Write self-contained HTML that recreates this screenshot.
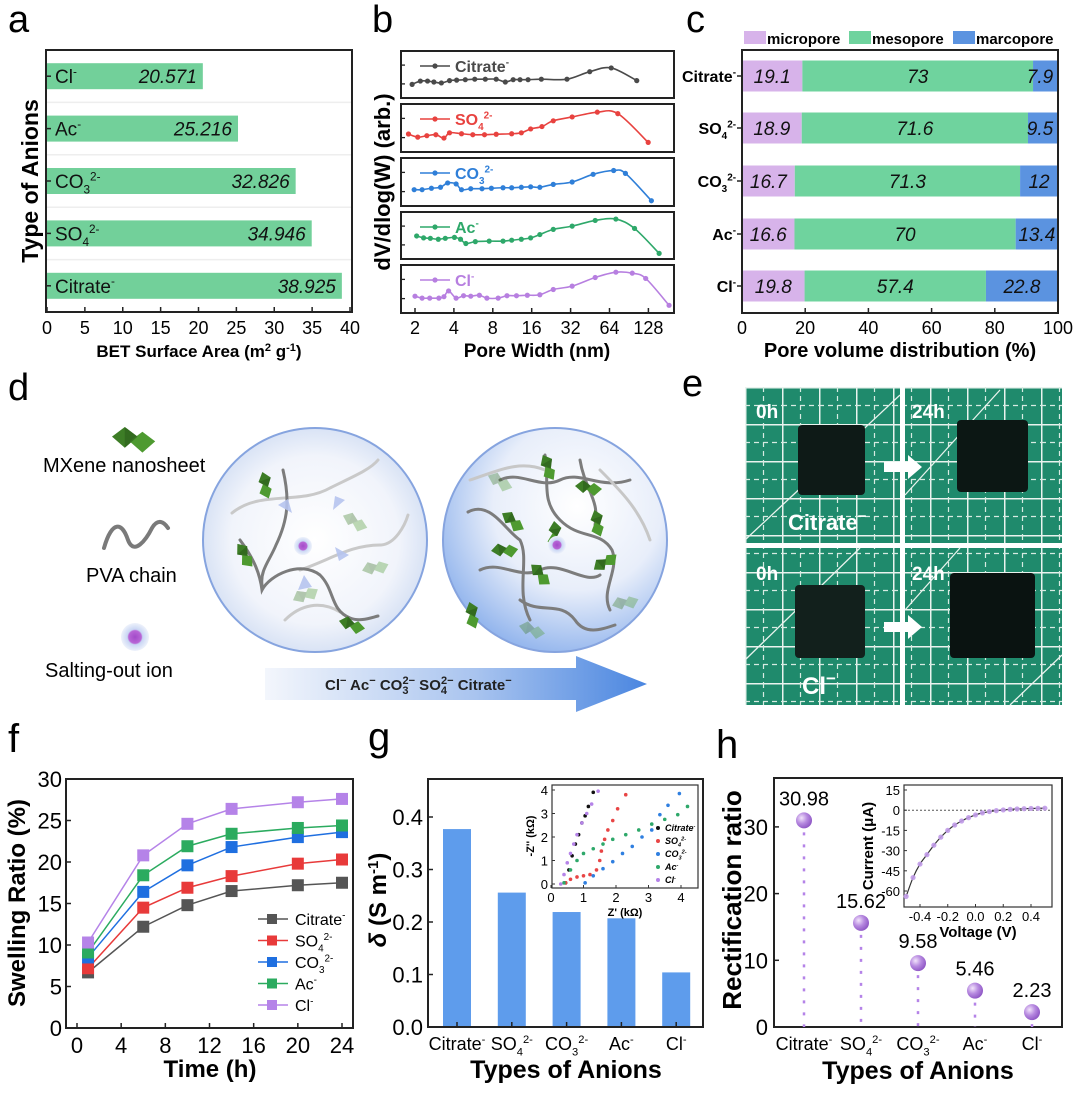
<!DOCTYPE html>
<html><head><meta charset="utf-8"><style>
html,body{margin:0;padding:0;background:#fff}
svg{display:block;font-family:"Liberation Sans",Arial,sans-serif}
</style></head><body>
<svg id="fig" width="1080" height="1095" viewBox="0 0 1080 1095" xmlns="http://www.w3.org/2000/svg">
<defs>
<radialGradient id="circL" cx="0.5" cy="0.5" r="0.5"><stop offset="0" stop-color="#ffffff"/><stop offset="0.75" stop-color="#f1f4fb"/><stop offset="1" stop-color="#d9e3f5"/></radialGradient>
<radialGradient id="circR" cx="0.6" cy="0.35" r="0.75"><stop offset="0" stop-color="#ffffff"/><stop offset="0.5" stop-color="#e8eefa"/><stop offset="1" stop-color="#7fa8ea"/></radialGradient>
<linearGradient id="arrowG" x1="0" x2="1" y1="0" y2="0"><stop offset="0" stop-color="#f3f6fc"/><stop offset="0.55" stop-color="#a9c4ef"/><stop offset="1" stop-color="#4a86e0"/></linearGradient>
<radialGradient id="ionG"><stop offset="0" stop-color="#a24bc9"/><stop offset="0.45" stop-color="#b866d6"/><stop offset="0.55" stop-color="#c9d6f4"/><stop offset="1" stop-color="#eef2fb"/></radialGradient>
<radialGradient id="ballG" cx="0.35" cy="0.35" r="0.7"><stop offset="0" stop-color="#f2e4fb"/><stop offset="0.5" stop-color="#b78ae0"/><stop offset="1" stop-color="#8d55c4"/></radialGradient>
<pattern id="grid" width="37" height="37" patternUnits="userSpaceOnUse" x="745" y="387">
<rect width="37" height="37" fill="#1f8a6c"/>
<path d="M0,0.5H37M0.5,0V37" stroke="#e9f3ee" stroke-width="2"/>
<path d="M0,18.5H37M18.5,0V37" stroke="#d7ebe2" stroke-width="1.2" stroke-dasharray="5,4"/>
</pattern>
<g id="mx"><path d="M0,6 L8,0 L16,6 L8,13 Z" fill="#3d7d26"/><path d="M11,9 L19,3 L27,9 L19,16 Z" fill="#4e9a30"/><path d="M8,0 L16,6 L8,13 Z" fill="#2b5e1a" opacity="0.6"/></g>
</defs>
<rect width="1080" height="1095" fill="#fff"/>

<text x="8" y="32" font-size="38">a</text>
<text x="372" y="32" font-size="38">b</text>
<text x="686" y="32" font-size="38">c</text>
<text x="8" y="400" font-size="38">d</text>
<text x="682" y="396" font-size="38">e</text>
<text x="8" y="752" font-size="40">f</text>
<text x="368" y="750" font-size="40">g</text>
<text x="716" y="758" font-size="40">h</text>

<g id="pa"></g>
<g id="pb"></g>
<g id="pc"></g>

<g id="pd">
<use href="#mx" x="112" y="427" transform="translate(112,427) scale(1.6) translate(-112,-427)"/>
<text x="43" y="472" font-size="20">MXene nanosheet</text>
<path d="M104,548 C112,520 122,522 128,540 C134,556 146,540 152,528 C158,518 164,522 168,528" fill="none" stroke="#7a7a7a" stroke-width="4" stroke-linecap="round"/>
<text x="86" y="582" font-size="20">PVA chain</text>
<circle cx="135" cy="637" r="14" fill="url(#ionG)"/>
<text x="45" y="677" font-size="20">Salting-out ion</text>
<circle cx="315" cy="540" r="112" fill="url(#circL)" stroke="#86a4df" stroke-width="2"/>
<g fill="none" stroke="#c9c9c9" stroke-width="3" stroke-linecap="round">
<path d="M232,513 C260,490 300,505 330,488 C350,478 370,470 378,460"/>
<path d="M300,570 C330,560 350,545 380,545 C395,545 405,525 408,515"/>
<path d="M285,620 C300,605 320,600 340,612"/>
</g>
<g fill="none" stroke="#7c7c7c" stroke-width="3" stroke-linecap="round">
<path d="M283,470 C290,500 288,520 276,545 C270,560 260,570 262,585"/>
<path d="M240,540 C255,560 260,575 262,590 C270,575 300,560 320,575 C335,590 330,610 350,618 C360,622 370,618 378,616"/>
</g>
<g fill="#b6c4ef" opacity="0.9">
<path d="M278,505 l14,8 l-4,-14 z"/><path d="M345,500 l-12,10 l2,-14 z"/><path d="M349,555 l-14,-8 l4,14 z"/><path d="M298,590 l6,-15 l8,12 z"/>
</g>
<use href="#mx" transform="translate(268,470) rotate(70)"/>
<use href="#mx" transform="translate(242,540) rotate(50)"/>
<use href="#mx" transform="translate(340,615) rotate(10)"/>
<use href="#mx" transform="translate(345,510) rotate(20)" opacity="0.35"/>
<use href="#mx" transform="translate(360,565) rotate(-20)" opacity="0.35"/>
<use href="#mx" transform="translate(290,595) rotate(-30)" opacity="0.35"/>
<circle cx="303" cy="546" r="9" fill="url(#ionG)"/>
<circle cx="555" cy="540" r="112" fill="url(#circR)" stroke="#86a4df" stroke-width="2"/>
<g fill="none" stroke="#7c7c7c" stroke-width="3" stroke-linecap="round">
<path d="M468,512 C490,500 505,530 520,540 C530,560 515,590 530,620"/>
<path d="M545,455 C550,480 540,500 560,520 C580,540 600,530 612,550 C620,570 600,590 610,610"/>
<path d="M480,570 C500,560 520,580 540,570 C560,560 585,585 600,575"/>
<path d="M500,480 C520,470 540,490 560,480 C580,470 600,490 630,480"/>
<path d="M520,600 C540,615 560,600 575,620 C585,635 600,630 615,625"/>
<path d="M580,460 C585,490 600,500 595,525"/>
</g>
<g fill="none" stroke="#c7c7c7" stroke-width="3" stroke-linecap="round">
<path d="M470,480 C500,470 520,460 545,470"/><path d="M600,470 C620,490 640,510 650,540"/>
</g>
<use href="#mx" transform="translate(548,452) rotate(60)"/>
<use href="#mx" transform="translate(505,508) rotate(30)"/>
<use href="#mx" transform="translate(490,545) rotate(-10)"/>
<use href="#mx" transform="translate(560,520) rotate(80)"/>
<use href="#mx" transform="translate(600,508) rotate(70)"/>
<use href="#mx" transform="translate(535,560) rotate(40)"/>
<use href="#mx" transform="translate(590,565) rotate(-40)"/>
<use href="#mx" transform="translate(575,480) rotate(0)"/>
<use href="#mx" transform="translate(475,600) rotate(70)"/>
<use href="#mx" transform="translate(490,470) rotate(20)" opacity="0.35"/>
<use href="#mx" transform="translate(610,600) rotate(-20)" opacity="0.35"/>
<use href="#mx" transform="translate(520,620) rotate(10)" opacity="0.35"/>
<circle cx="557" cy="545" r="9" fill="url(#ionG)"/>
<path d="M265,668 H576 V656 L647,684 L576,712 V700 H265 Z" fill="url(#arrowG)"/>
<text x="325" y="690" font-size="15" font-weight="bold" fill="#222">Cl<tspan dy="-6" font-size="11">−</tspan><tspan dy="6"> Ac</tspan><tspan dy="-6" font-size="11">−</tspan><tspan dy="6"> CO</tspan><tspan dy="4" font-size="11">3</tspan><tspan dy="-10" dx="-6" font-size="11">2−</tspan><tspan dy="6"> SO</tspan><tspan dy="4" font-size="11">4</tspan><tspan dy="-10" dx="-6" font-size="11">2−</tspan><tspan dy="6"> Citrate</tspan><tspan dy="-6" font-size="11">−</tspan></text>
</g>

<g id="pe">
<rect x="745" y="387" width="155" height="156" fill="url(#grid)"/>
<rect x="905" y="387" width="157" height="156" fill="url(#grid)"/>
<rect x="745" y="548" width="155" height="157" fill="url(#grid)"/>
<rect x="905" y="548" width="157" height="157" fill="url(#grid)"/>
<g stroke="#e9f3ee" stroke-width="1.3">
<line x1="745" y1="540" x2="900" y2="395"/><line x1="905" y1="495" x2="1000" y2="390"/><line x1="745" y1="660" x2="860" y2="548"/><line x1="905" y1="610" x2="960" y2="548"/><line x1="1010" y1="705" x2="1062" y2="655"/>
</g>
<rect x="798" y="425" width="67" height="70" rx="4" fill="#0e1a17"/>
<rect x="957" y="420" width="71" height="72" rx="4" fill="#0c1714"/>
<rect x="795" y="585" width="70" height="73" rx="4" fill="#12201c"/>
<rect x="950" y="573" width="85" height="85" rx="4" fill="#0a1311"/>
<path d="M884,462 H908 V455 L922,467 L908,479 V472 H884 Z" fill="#fff"/>
<path d="M884,622 H908 V615 L922,627 L908,639 V632 H884 Z" fill="#fff"/>
<g fill="#fff" font-weight="bold" font-size="19">
<text x="756" y="418">0h</text><text x="912" y="418">24h</text><text x="756" y="580">0h</text><text x="912" y="580">24h</text>
<text x="788" y="530" font-size="22">Citrate<tspan dy="-9" font-size="15">−</tspan></text>
<text x="802" y="694" font-size="24">Cl<tspan dy="-10" font-size="17">−</tspan></text>
</g>
</g>

<g id="pf"></g>
<g id="pg"></g>
<g id="ph"></g>
</svg>

<script>
const aCats = ['Cl','Ac','CO3','SO4','Cit'];
const aVals = [20.571, 25.216, 32.826, 34.946, 38.925];
const aTicks = [0,5,10,15,20,25,30,35,40];

const bSeries = ['Cit','SO4','CO3','Ac','Cl'];
const bWidthCit = [1.9,2.2,2.5,2.8,3.2,3.7,4.2,4.9,5.8,7,8.5,10,11.5,13,15,19,30,45,66,104];
const bValCit   = [0.29,0.36,0.36,0.34,0.32,0.37,0.38,0.39,0.40,0.40,0.40,0.34,0.39,0.39,0.39,0.40,0.40,0.56,0.64,0.37];
const bWidthSO4 = [1.78,2.1,2.47,2.9,3.35,3.7,4.58,5.6,6.9,8.5,11.2,13.3,15.7,19.2,23.5,32.9,51.5,74.2,127.5];
const bValSO4   = [0.375,0.31,0.34,0.36,0.29,0.40,0.38,0.36,0.36,0.37,0.38,0.40,0.48,0.53,0.65,0.73,0.83,0.80,0.2];
const bWidthCO3 = [1.97,2.27,2.68,3.15,3.58,4.16,4.58,5.4,6.6,7.8,9.6,11.2,13.3,15.7,18.5,23.5,32.9,47.8,68.9,85,135];
const bValCO3   = [0.34,0.34,0.37,0.39,0.48,0.46,0.34,0.36,0.36,0.37,0.38,0.38,0.39,0.40,0.39,0.45,0.50,0.66,0.74,0.68,0.11];
const bWidthAc  = [2.06,2.33,2.63,3.03,3.43,4.04,4.5,4.95,5.86,7.5,9.6,11.2,13.3,15.7,18.5,23.5,32.9,49.6,71.7,100,155];
const bValAc    = [0.49,0.45,0.44,0.42,0.44,0.46,0.42,0.33,0.37,0.38,0.38,0.40,0.42,0.45,0.52,0.63,0.70,0.82,0.85,0.65,0.12];
const bWidthCl  = [2.0,2.27,2.6,3.06,3.35,3.64,4.16,4.75,5.4,6.3,7.2,8.8,10.3,12.2,14.8,18.5,23.5,32.9,49.6,71.7,96,122,185];
const bValCl    = [0.35,0.31,0.31,0.31,0.34,0.46,0.31,0.36,0.35,0.37,0.31,0.31,0.36,0.36,0.37,0.38,0.49,0.56,0.74,0.85,0.83,0.72,0.16];
const bTicks = [2,4,8,16,32,64,128];

const cCats = ['Cit','SO4','CO3','Ac','Cl'];
const cMicro = [19.1, 18.9, 16.7, 16.6, 19.8];
const cMeso  = [73, 71.6, 71.3, 70, 57.4];
const cMacro = [7.9, 9.5, 12, 13.4, 22.8];
const cTicks = [0,20,40,60,80,100];

const fTimes = [1,6,10,14,20,24];
const fCit = [6.7,12.2,14.8,16.5,17.2,17.5];
const fSO4 = [7.2,14.5,16.9,18.3,19.8,20.3];
const fCO3 = [8.5,16.4,19.6,21.8,23.0,23.6];
const fAc  = [9.1,18.4,21.9,23.4,24.1,24.4];
const fCl  = [10.3,20.8,24.6,26.4,27.2,27.6];
const fXTicks = [0,4,8,12,16,20,24];
const fYTicks = [0,5,10,15,20,25,30];

const gCats = ['Cit','SO4','CO3','Ac','Cl'];
const gVals = [0.377, 0.256, 0.219, 0.207, 0.104];
const gYTicks = ['0.0','0.1','0.2','0.3','0.4'];
const giCitX = [0.45,0.55,0.65,0.75,0.85,0.95,1.05,1.15,1.3];
const giCitY = [0.05,0.6,1.2,1.7,2.1,2.6,2.9,3.3,3.9];
const giSO4X = [0.45,0.6,0.8,1.0,1.2,1.4,1.5,1.55,1.65,1.75,1.9,2.05,2.3];
const giSO4Y = [0.05,0.2,0.3,0.35,0.4,0.6,1.0,1.4,1.9,2.3,2.7,3.2,3.8];
const giCO3X = [1.05,1.3,1.6,1.9,2.2,2.5,2.8,3.1,3.35,3.6,3.95];
const giCO3Y = [0.05,0.35,0.65,0.95,1.3,1.6,2.0,2.3,2.95,3.35,3.85];
const giAcX  = [0.4,0.6,0.8,1.0,1.3,1.6,1.9,2.3,2.7,3.1,3.5,3.9,4.2];
const giAcY  = [0.05,0.6,1.0,1.3,1.5,1.7,1.9,2.1,2.3,2.55,2.75,2.95,3.3];
const giClX  = [0.3,0.4,0.5,0.6,0.7,0.8,0.95,1.1,1.25,1.45];
const giClY  = [0,0.4,0.9,1.3,1.7,2.1,2.6,3.0,3.4,3.95];
const giXTicks = [0,1,2,3,4];
const giYTicks = [0,1,2,3,4];

const hCats = ['Cit','SO4','CO3','Ac','Cl'];
const hVals = [30.98, 15.62, 9.58, 5.46, 2.23];
const hLabels = ['30.98','15.62','9.58','5.46','2.23'];
const hYTicks = [0,10,20,30];
const hiV = [-0.5,-0.45,-0.4,-0.35,-0.3,-0.25,-0.2,-0.15,-0.1,-0.05,0,0.05,0.1,0.15,0.2,0.25,0.3,0.35,0.4,0.45,0.5];
const hiI = [-64,-50,-40,-33,-26,-20,-15,-11,-8,-5.5,-3.5,-2,-1,-0.3,0.2,0.6,0.9,1.1,1.3,1.4,1.5];
const hiXTicks = ['-0.4','-0.2','0.0','0.2','0.4'];
const hiYTicks = [15,0,-15,-30,-45,-60];

const NS='http://www.w3.org/2000/svg';
const IONS={Cl:['Cl','','-'],Ac:['Ac','','-'],CO3:['CO','3','2-'],SO4:['SO','4','2-'],Cit:['Citrate','','-']};
function mk(tag,attrs,parent){const e=document.createElementNS(NS,tag);for(const k in attrs)e.setAttribute(k,attrs[k]);parent.appendChild(e);return e;}
function txt(p,x,y,s,attrs){const t=mk('text',Object.assign({x:x,y:y},attrs||{}),p);t.textContent=s;return t;}
function ion(p,x,y,key,fs,anchor,extra){
  const d=IONS[key];const t=mk('text',Object.assign({x:x,y:y,'font-size':fs,'text-anchor':anchor||'start'},extra||{}),p);
  t.appendChild(document.createTextNode(d[0]));let dy=0;
  if(d[1]){const s=mk('tspan',{dy:fs*0.3,'font-size':fs*0.62},t);s.textContent=d[1];dy=fs*0.3;}
  if(d[2]){const s=mk('tspan',{dy:-dy-fs*0.4,'font-size':fs*0.62},t);s.textContent=d[2];}
  return t;}
function smooth(pts){let d='M'+pts[0][0]+','+pts[0][1];
  for(let i=0;i<pts.length-1;i++){const p0=pts[i-1]||pts[i],p1=pts[i],p2=pts[i+1],p3=pts[i+2]||p2;
  d+=' C'+(p1[0]+(p2[0]-p0[0])/6)+','+(p1[1]+(p2[1]-p0[1])/6)+' '+(p2[0]-(p3[0]-p1[0])/6)+','+(p2[1]-(p3[1]-p1[1])/6)+' '+p2[0]+','+p2[1];}
  return d;}
function frame(p,x0,y0,x1,y1,name){const r=mk('rect',{x:x0,y:y0,width:x1-x0,height:y1-y0,fill:'none',stroke:'#222','stroke-width':2},p);
  
  return r;}

(function(){
const p=document.getElementById('pa');
const X0=46,X1=352,Y0=50,Y1=312;
const xa=v=>47+v*(350-47)/40;
const band=(Y1-Y0)/aCats.length;
aCats.forEach((c,i)=>{
  const cy=Y0+band*(i+0.5);
  if(i>0){const l=mk('line',{x1:X0,x2:X1,y1:Y0+band*i,y2:Y0+band*i,stroke:'#eeeeee','stroke-width':1.5},p);
    
    }
  const b=mk('rect',{x:xa(0),y:cy-13,width:xa(aVals[i])-xa(0),height:26,fill:'#72d09a'},p);
  
  
  const v=txt(p,xa(aVals[i])-6,cy+7,aVals[i].toFixed(3),{'font-size':19,'font-style':'italic','text-anchor':'end',fill:'#111'});
  
  
  const t=ion(p,X0+9,cy+7,c,19,'start',{fill:'#111'});
  
  
  mk('line',{x1:X0,x2:X0+5,y1:cy,y2:cy,stroke:'#222','stroke-width':1.5},p);
});
frame(p,X0,Y0,X1,Y1,'plot-frame-a');
aTicks.forEach(t=>{
  mk('line',{x1:xa(t),x2:xa(t),y1:Y1,y2:Y1-5,stroke:'#222','stroke-width':1.5},p);
  const l=txt(p,xa(t),334,String(t),{'font-size':18,'text-anchor':'middle'});
  
  
});
const xt=mk('text',{x:199,y:357,'font-size':17,'font-weight':'bold','text-anchor':'middle'},p);
xt.innerHTML='BET Surface Area (m<tspan dy="-6" font-size="11">2</tspan><tspan dy="6"> g</tspan><tspan dy="-6" font-size="11">-1</tspan><tspan dy="6">)</tspan>';


const yt=txt(p,0,0,'Type of Anions',{'font-size':23,'font-weight':'bold','text-anchor':'middle',transform:'translate(38,181) rotate(-90)'});


})();

(function(){
const p=document.getElementById('pb');
const X0=401,X1=674;
const boxes=[[51,98],[104,152],[158,206],[212,259],[265,313]];
const xb=w=>415+Math.log2(w/2)*38.9;
const widths=[bWidthCit,bWidthSO4,bWidthCO3,bWidthAc,bWidthCl];
const vals=[bValCit,bValSO4,bValCO3,bValAc,bValCl];
const cols=['#4a4a4a','#e8423f','#2f7fd8','#2ea86a','#b77fe0'];
bSeries.forEach((s,i)=>{
  const [t,b]=boxes[i];const h=b-t;const yb=v=>b-v*h;
  frame(p,X0,t,X1,b,'box-'+s);
  [0.3,0.7].forEach(v=>mk('line',{x1:X0,x2:X0+4,y1:yb(v),y2:yb(v),stroke:'#222','stroke-width':1.3},p));
  const pts=widths[i].map((w,k)=>[xb(w),yb(vals[i][k])]);
  const line=mk('path',{d:smooth(pts),fill:'none',stroke:cols[i],'stroke-width':1.6},p);
  
  
  pts.forEach(q=>{const c=mk('circle',{cx:q[0],cy:q[1],r:2.6,fill:cols[i]},p);
    
    });
  mk('line',{x1:420,x2:450,y1:t+15,y2:t+15,stroke:cols[i],'stroke-width':1.6},p);
  mk('circle',{cx:435,cy:t+15,r:2.6,fill:cols[i]},p);
  const lt=ion(p,455,t+21,s,16,'start',{fill:cols[i],'font-weight':'bold'});
  
  
});
bTicks.forEach(w=>{
  mk('line',{x1:xb(w),x2:xb(w),y1:313,y2:308,stroke:'#222','stroke-width':1.5},p);
  const l=txt(p,xb(w),334,String(w),{'font-size':18,'text-anchor':'middle'});
  
  
});
const xt=txt(p,537,357,'Pore Width (nm)',{'font-size':19,'font-weight':'bold','text-anchor':'middle'});


const yt=txt(p,0,0,'dV/dlog(W) (arb.)',{'font-size':22,'font-weight':'bold','text-anchor':'middle',transform:'translate(390,182) rotate(-90)'});


})();

(function(){
const p=document.getElementById('pc');
const X0=742,X1=1058,Y0=50,Y1=313;
const xc=v=>X0+v*(X1-X0)/100;
const rows=[76,128,181,234,286];
const cols=['#d7b3ea','#6fd39e','#5b93e0'];
const segs=[cMicro,cMeso,cMacro];const nm=['micropore','mesopore','macropore'];
cCats.forEach((c,i)=>{
  let acc=0;
  segs.forEach((arr,k)=>{
    const v=arr[i];
    const r=mk('rect',{x:xc(acc),y:rows[i]-15.5,width:xc(acc+v)-xc(acc),height:31,fill:cols[k]},p);
    
    
    const lx=k===2?Math.min(xc(acc+v/2),X1-18):xc(acc+v/2);
    const l=txt(p,lx,rows[i]+7,String(v),{'font-size':19,'font-style':'italic','text-anchor':'middle',fill:'#111'});
    
    
    acc+=v;
  });
  const t=ion(p,736,rows[i]+6,c,16,'end',{'font-weight':'bold'});
  
  
  mk('line',{x1:X0-5,x2:X0,y1:rows[i],y2:rows[i],stroke:'#222','stroke-width':1.5},p);
});
frame(p,X0,Y0,X1,Y1,'plot-frame-c');
cTicks.forEach(t=>{
  mk('line',{x1:xc(t),x2:xc(t),y1:Y1,y2:Y1-5,stroke:'#222','stroke-width':1.5},p);
  const l=txt(p,xc(t),334,String(t),{'font-size':18,'text-anchor':'middle'});
  
  
});
const lg=[[744,'micropore'],[849,'mesopore'],[953,'marcopore']];
lg.forEach((L,k)=>{
  const s=mk('rect',{x:L[0],y:31,width:22,height:13,fill:cols[k]},p);
  
  
  const t=txt(p,L[0]+23,44,L[1],{'font-size':15,'font-weight':'bold'});
  
  
});
const xt=txt(p,900,357,'Pore volume distribution (%)',{'font-size':20,'font-weight':'bold','text-anchor':'middle'});


})();

(function(){
const p=document.getElementById('pf');
const X0=66,X1=353,Y0=779,Y1=1028;
const xf=t=>77+t*(342-77)/24;
const yf=v=>Y1-v*(Y1-Y0)/30;
frame(p,X0,Y0,X1,Y1,'plot-frame-f');
fXTicks.forEach(t=>{mk('line',{x1:xf(t),x2:xf(t),y1:Y1,y2:Y1-5,stroke:'#222','stroke-width':1.5},p);
  const l=txt(p,xf(t),1053,String(t),{'font-size':22,'text-anchor':'middle'});
  
  });
fYTicks.forEach(v=>{mk('line',{x1:X0,x2:X0+5,y1:yf(v),y2:yf(v),stroke:'#222','stroke-width':1.5},p);
  const l=txt(p,62,yf(v)+8,String(v),{'font-size':22,'text-anchor':'end'});
  
  });
const series=[['Cit',fCit,'#555555'],['SO4',fSO4,'#e83a3a'],['CO3',fCO3,'#1f6fe0'],['Ac',fAc,'#2bab5f'],['Cl',fCl,'#b583e8']];
series.forEach((s,i)=>{
  const pts=fTimes.map((t,k)=>xf(t)+','+yf(s[1][k])).join(' ');
  const l=mk('polyline',{points:pts,fill:'none',stroke:s[2],'stroke-width':1.5},p);
  
  
  fTimes.forEach((t,k)=>{const m=mk('rect',{x:xf(t)-6,y:yf(s[1][k])-6,width:12,height:12,fill:s[2]},p);
    
    });
  const ly=919+i*21.5;
  mk('line',{x1:258,x2:288,y1:ly,y2:ly,stroke:s[2],'stroke-width':1.5},p);
  mk('rect',{x:267,y:ly-5,width:10,height:10,fill:s[2]},p);
  const t=ion(p,295,ly+6,s[0],16,'start',{});
  
  
});
const xt=txt(p,210,1077,'Time (h)',{'font-size':24,'font-weight':'bold','text-anchor':'middle'});


const yt=txt(p,0,0,'Swelling Ratio (%)',{'font-size':24,'font-weight':'bold','text-anchor':'middle',transform:'translate(25,903) rotate(-90)'});


})();

(function(){
const p=document.getElementById('pg');
const X0=428,X1=703,Y0=779,Y1=1027;
const yg=v=>Y1-v*525;
const xg=i=>457+i*54.8;
gCats.forEach((c,i)=>{
  const b=mk('rect',{x:xg(i)-14,y:yg(gVals[i]),width:28,height:yg(0)-yg(gVals[i]),fill:'#5e9cec'},p);
  
  
  mk('line',{x1:xg(i),x2:xg(i),y1:Y1,y2:Y1-5,stroke:'#222','stroke-width':1.5},p);
  const t=ion(p,xg(i),1050,c,18,'middle',{});
  
  
});
frame(p,X0,Y0,X1,Y1,'plot-frame-g');
gYTicks.forEach(s=>{const v=parseFloat(s);
  mk('line',{x1:X0,x2:X0+5,y1:yg(v),y2:yg(v),stroke:'#222','stroke-width':1.5},p);
  const l=txt(p,423,yg(v)+8,s,{'font-size':22,'text-anchor':'end'});
  
  });
const xt=txt(p,566,1078,'Types of Anions',{'font-size':25,'font-weight':'bold','text-anchor':'middle'});


const yt=mk('text',{'font-size':24,'font-weight':'bold','text-anchor':'middle',transform:'translate(386,900) rotate(-90)'},p);
yt.innerHTML='<tspan font-style="italic">δ</tspan> (S m<tspan dy="-8" font-size="15">-1</tspan><tspan dy="8">)</tspan>';


const IX0=552,IX1=698,IY0=785,IY1=888;
const xi=v=>551+v*32.5, yi=v=>884-v*23.5;
const bg=mk('rect',{x:IX0,y:IY0,width:IX1-IX0,height:IY1-IY0,fill:'#fff',stroke:'#333','stroke-width':1.2},p);


giXTicks.forEach(v=>{mk('line',{x1:xi(v),x2:xi(v),y1:IY1,y2:IY1-3,stroke:'#333'},p);
  const l=txt(p,xi(v),902,String(v),{'font-size':13,'text-anchor':'middle'});
  
  });
giYTicks.forEach(v=>{mk('line',{x1:IX0,x2:IX0+3,y1:yi(v),y2:yi(v),stroke:'#333'},p);
  const l=txt(p,548,yi(v)+5,String(v),{'font-size':13,'text-anchor':'end'});
  
  });
const ixt=txt(p,625,916,"Z' (kΩ)",{'font-size':11,'font-weight':'bold','text-anchor':'middle'});


const iyt=txt(p,0,0,"-Z'' (kΩ)",{'font-size':11,'font-weight':'bold','text-anchor':'middle',transform:'translate(534,836) rotate(-90)'});


const ser=[['Cit',giCitX,giCitY,'#111'],['SO4',giSO4X,giSO4Y,'#e84545'],['CO3',giCO3X,giCO3Y,'#2f7fe0'],['Ac',giAcX,giAcY,'#2ea86a'],['Cl',giClX,giClY,'#b583e8']];
ser.forEach((s,i)=>{
  s[1].forEach((x,k)=>{const c=mk('circle',{cx:xi(x),cy:yi(s[2][k]),r:1.8,fill:s[3]},p);
    
    });
  const ly=831+i*13;
  mk('circle',{cx:658,cy:ly-3,r:2,fill:s[3]},p);
  const t=ion(p,665,ly,s[0],9,'start',{'font-style':'italic','font-weight':'bold'});
  
  
});
})();

(function(){
const p=document.getElementById('ph');
const X0=774,X1=1062,Y0=778,Y1=1027;
const yh=v=>Y1-v*6.67;
const xh=i=>804+i*57;
frame(p,X0,Y0,X1,Y1,'plot-frame-h');
hYTicks.forEach(v=>{mk('line',{x1:X0,x2:X0+5,y1:yh(v),y2:yh(v),stroke:'#222','stroke-width':1.5},p);
  const l=txt(p,768,yh(v)+8,String(v),{'font-size':22,'text-anchor':'end'});
  
  });
hCats.forEach((c,i)=>{
  const d=mk('line',{x1:xh(i),x2:xh(i),y1:yh(hVals[i]),y2:Y1,stroke:'#b583e8','stroke-width':2.5,'stroke-dasharray':'3,9'},p);
  
  
  const b=mk('circle',{cx:xh(i),cy:yh(hVals[i]),r:8,fill:'url(#ballG)'},p);
  
  
  const v=txt(p,xh(i),yh(hVals[i])-15,hLabels[i],{'font-size':20,'text-anchor':'middle'});
  
  
  const t=ion(p,xh(i),1050,c,18,'middle',{});
  
  
});
const xt=txt(p,918,1079,'Types of Anions',{'font-size':25,'font-weight':'bold','text-anchor':'middle'});


const yt=txt(p,0,0,'Rectification ratio',{'font-size':26,'font-weight':'bold','text-anchor':'middle',transform:'translate(741,900) rotate(-90)'});


const IX0=904,IX1=1052,IY0=785,IY1=907;
const xi=v=>975.5+v*138.75, yi=v=>810.2-v*1.347;
const bg=mk('rect',{x:IX0,y:IY0,width:IX1-IX0,height:IY1-IY0,fill:'#fff',stroke:'#333','stroke-width':1.2},p);


mk('line',{x1:IX0,x2:IX1,y1:yi(0),y2:yi(0),stroke:'#555','stroke-width':1,'stroke-dasharray':'2,2'},p);
hiXTicks.forEach(s=>{const v=parseFloat(s);
  mk('line',{x1:xi(v),x2:xi(v),y1:IY1,y2:IY1-3,stroke:'#333'},p);
  const l=txt(p,xi(v),921,s,{'font-size':13,'text-anchor':'middle'});
  
  });
hiYTicks.forEach(v=>{mk('line',{x1:IX0,x2:IX0+3,y1:yi(v),y2:yi(v),stroke:'#333'},p);
  const l=txt(p,900,yi(v)+5,String(v),{'font-size':13,'text-anchor':'end'});
  
  });
const pts=hiV.map((v,k)=>[xi(v),yi(hiI[k])]);
const cl=mk('path',{d:smooth(pts),fill:'none',stroke:'#333','stroke-width':1.2},p);


pts.forEach(q=>{const c=mk('circle',{cx:q[0],cy:q[1],r:2.6,fill:'#c09ae8',opacity:0.9},p);
  
  });
const ixt=txt(p,978,937,'Voltage (V)',{'font-size':15,'font-weight':'bold','text-anchor':'middle'});


const iyt=txt(p,0,0,'Current (μA)',{'font-size':15,'font-weight':'bold','text-anchor':'middle',transform:'translate(873,846) rotate(-90)'});


})();
</script>
</body></html>
